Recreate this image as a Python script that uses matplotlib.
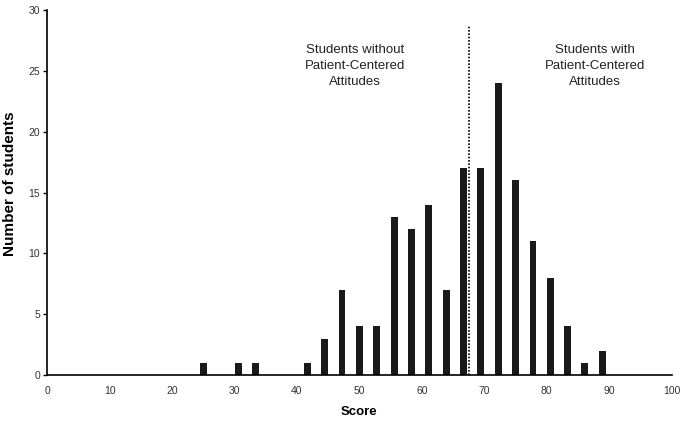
import matplotlib.pyplot as plt

plt.rcParams['font.family'] = ['Liberation Sans', 'DejaVu Sans']

# score (%) and number of students
scores = [25.0, 30.6, 33.3, 41.7, 44.4, 47.2, 50.0, 52.8, 55.6, 58.3, 61.1,
          63.9, 66.7, 69.4, 72.2, 75.0, 77.8, 80.6, 83.3, 86.1, 88.9]
counts = [1, 1, 1, 1, 3, 7, 4, 4, 13, 12, 14,
          7, 17, 17, 24, 16, 11, 8, 4, 1, 2]
cutoff = 67.6

fig = plt.figure(figsize=(6.84, 4.21), dpi=100)
ax = fig.add_axes([0.069, 0.109, 0.913, 0.867])

ax.bar(scores, counts, width=1.1, color='#1a1a1a')
ax.axvline(cutoff, ymin=0, ymax=0.96, color='black', linestyle=(0, (1, 1)), linewidth=1.2)

ax.text(49.3, 27.2, "Students without\nPatient-Centered\nAttitudes", ha='center', va='top',
        fontsize=9.5, linespacing=1.42, color='#222222')
ax.text(87.7, 27.2, "Students with\nPatient-Centered\nAttitudes", ha='center', va='top',
        fontsize=9.5, linespacing=1.42, color='#222222')

ax.set_xlim(0, 100)
ax.set_ylim(0, 30)
ax.set_xticks(range(0, 101, 10))
ax.set_yticks(range(0, 31, 5))
ax.tick_params(axis='x', length=0, pad=8, labelsize=7.5, colors='#333333')
ax.tick_params(axis='y', length=3, width=1, direction='out', pad=2, labelsize=7.5, labelcolor='#333333')
for s in ['top', 'right']:
    ax.spines[s].set_visible(False)
ax.spines['left'].set_linewidth(1.2)
ax.spines['bottom'].set_linewidth(1.2)

ax.set_xlabel("Score", fontsize=9.5, fontweight='bold', labelpad=7)
ax.set_ylabel("Number of students", fontsize=11, fontweight='bold')
ax.yaxis.set_label_coords(-0.049, 0.525)

fig.savefig("out.png", dpi=100)
